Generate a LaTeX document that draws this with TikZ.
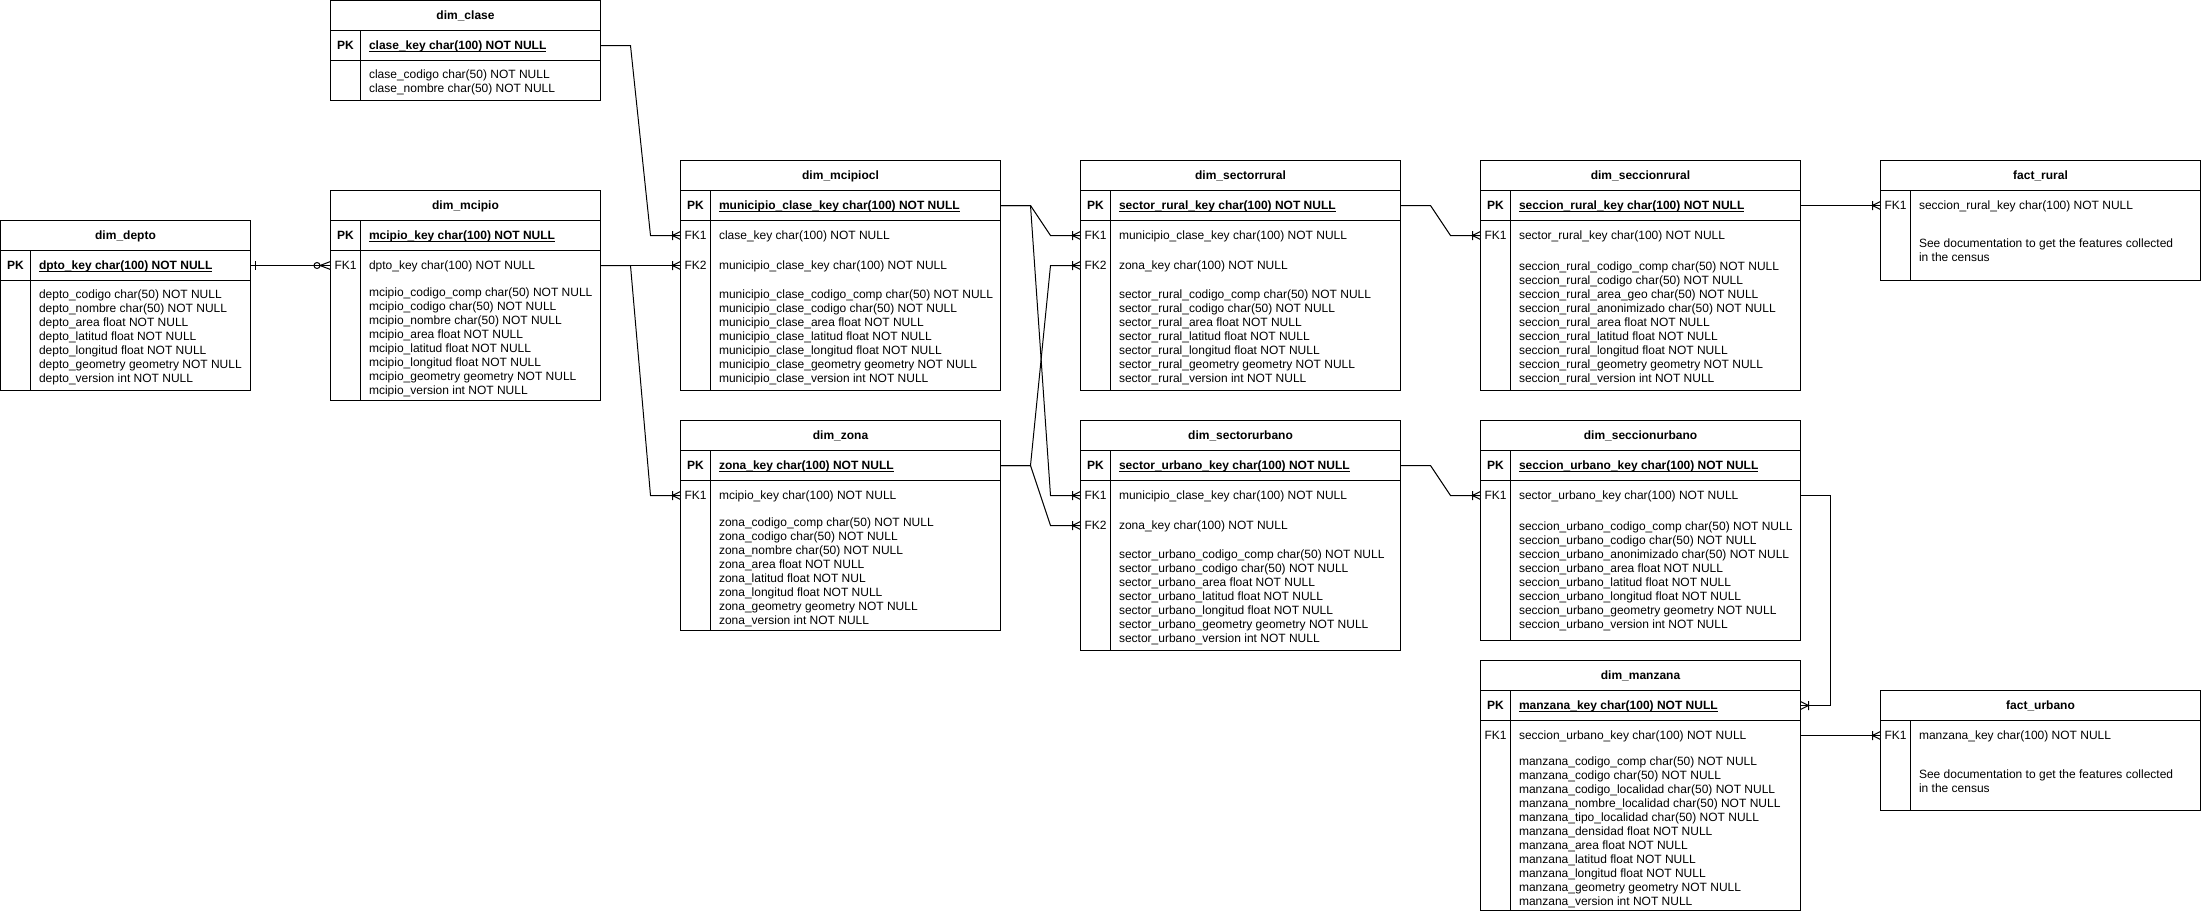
\documentclass[tikz,border=0pt]{standalone}
\usepackage{fontspec}
\setmainfont{Liberation Sans}
\usetikzlibrary{calc}

\tikzset{
  tbl/.style={draw, inner sep=0pt, outer sep=0pt, anchor=north west},
  txt/.style={inner sep=0pt, text height=8.6pt, text depth=0pt,
              font=\fontsize{12}{14}\selectfont},
  fld/.style={txt, anchor=west},
  ttl/.style={txt, font=\fontsize{12}{14}\selectfont\bfseries},
  manytip/.pic={\draw (-8,-4.5) -- (-8,4.5) (-8,0) -- (0,-4) (-8,0) -- (0,4);},
  zerotip/.pic={\draw (-13.5,0) circle[radius=3pt] (-10.5,0) -- (0,-4) (-10.5,0) -- (0,4);},
  onetip/.pic={\draw (5,-4.5) -- (5,4.5);}
}

\newcommand{\ertbl}[6]{% name, left, top, width, height, title
  \node[tbl, minimum width=#4pt, minimum height=#5pt] (#1) at (#2,#3) {};
  \node[ttl] (#1-title) at (#2+#4/2,#3+15) {#6};
  \draw (#2,#3+30) -- ++(#4,0) (#2+30,#3+30) -- (#2+30,#3+#5);
}
\newcommand{\erpk}[5]{% name, left, top, width, key
  \draw (#2,#3+60) -- ++(#4,0);
  \node[ttl] (#1-pklbl) at (#2+15,#3+45) {PK};
  \node[ttl, anchor=west] (#1-pk) at (#2+38,#3+45) {\underline{\smash{#5}}};
}
\newcommand{\erfk}[5]{% name, left, y, label, text
  \node[txt] (#1-lbl) at (#2+15,#3) {#4};
  \node[fld] (#1) at (#2+38,#3) {#5};
}
\newcommand{\erbody}[4]{% name, left, first y, lines
  \foreach \fieldtxt [count=\i] in {#4}
    \node[fld] (#1-\i) at (#2+38,#3+14*\i-14) {\fieldtxt};
}
\newcommand{\errel}[2]{%
  \draw (#1) -- ++(30,0) -- ($(#2)+(-30,0)$) -- (#2);
  \pic at (#2) {manytip};
}

\begin{document}
\begin{tikzpicture}[x=1pt,y=-1pt,line width=1pt]
  \path[fill=white] (-0.5,-0.5) rectangle (2200.5,910.5);

  \ertbl{clase}{330}{0}{270}{100}{dim\_clase}
  \erpk{clase}{330}{0}{270}{clase\_key char(100) NOT NULL}
  \erbody{clase}{330}{74}{clase\_codigo char(50) NOT NULL,clase\_nombre char(50) NOT NULL}

  \ertbl{depto}{0}{220}{250}{170}{dim\_depto}
  \erpk{depto}{0}{220}{250}{dpto\_key char(100) NOT NULL}
  \erbody{depto}{0}{294}{depto\_codigo char(50) NOT NULL,depto\_nombre char(50) NOT NULL,%
depto\_area float NOT NULL,depto\_latitud float NOT NULL,depto\_longitud float NOT NULL,%
depto\_geometry geometry NOT NULL,depto\_version int NOT NULL}

  \ertbl{mcipio}{330}{190}{270}{210}{dim\_mcipio}
  \erpk{mcipio}{330}{190}{270}{mcipio\_key char(100) NOT NULL}
  \erfk{mcipio-fk1}{330}{265}{FK1}{dpto\_key char(100) NOT NULL}
  \erbody{mcipio}{330}{292}{mcipio\_codigo\_comp char(50) NOT NULL,mcipio\_codigo char(50) NOT NULL,%
mcipio\_nombre char(50) NOT NULL,mcipio\_area float NOT NULL,mcipio\_latitud float NOT NULL,%
mcipio\_longitud float NOT NULL,mcipio\_geometry geometry NOT NULL,mcipio\_version int NOT NULL}

  \ertbl{mcipiocl}{680}{160}{320}{230}{dim\_mcipiocl}
  \erpk{mcipiocl}{680}{160}{320}{municipio\_clase\_key char(100) NOT NULL}
  \erfk{mcipiocl-fk1}{680}{235}{FK1}{clase\_key char(100) NOT NULL}
  \erfk{mcipiocl-fk2}{680}{265}{FK2}{municipio\_clase\_key char(100) NOT NULL}
  \erbody{mcipiocl}{680}{294}{municipio\_clase\_codigo\_comp char(50) NOT NULL,%
municipio\_clase\_codigo char(50) NOT NULL,municipio\_clase\_area float NOT NULL,%
municipio\_clase\_latitud float NOT NULL,municipio\_clase\_longitud float NOT NULL,%
municipio\_clase\_geometry geometry NOT NULL,municipio\_clase\_version int NOT NULL}

  \ertbl{zona}{680}{420}{320}{210}{dim\_zona}
  \erpk{zona}{680}{420}{320}{zona\_key char(100) NOT NULL}
  \erfk{zona-fk1}{680}{495}{FK1}{mcipio\_key char(100) NOT NULL}
  \erbody{zona}{680}{522}{zona\_codigo\_comp char(50) NOT NULL,zona\_codigo char(50) NOT NULL,%
zona\_nombre char(50) NOT NULL,zona\_area float NOT NULL,zona\_latitud float NOT NUL,%
zona\_longitud float NOT NULL,zona\_geometry geometry NOT NULL,zona\_version int NOT NULL}

  \ertbl{srural}{1080}{160}{320}{230}{dim\_sectorrural}
  \erpk{srural}{1080}{160}{320}{sector\_rural\_key char(100) NOT NULL}
  \erfk{srural-fk1}{1080}{235}{FK1}{municipio\_clase\_key char(100) NOT NULL}
  \erfk{srural-fk2}{1080}{265}{FK2}{zona\_key char(100) NOT NULL}
  \erbody{srural}{1080}{294}{sector\_rural\_codigo\_comp char(50) NOT NULL,%
sector\_rural\_codigo char(50) NOT NULL,sector\_rural\_area float NOT NULL,%
sector\_rural\_latitud float NOT NULL,sector\_rural\_longitud float NOT NULL,%
sector\_rural\_geometry geometry NOT NULL,sector\_rural\_version int NOT NULL}

  \ertbl{surbano}{1080}{420}{320}{230}{dim\_sectorurbano}
  \erpk{surbano}{1080}{420}{320}{sector\_urbano\_key char(100) NOT NULL}
  \erfk{surbano-fk1}{1080}{495}{FK1}{municipio\_clase\_key char(100) NOT NULL}
  \erfk{surbano-fk2}{1080}{525}{FK2}{zona\_key char(100) NOT NULL}
  \erbody{surbano}{1080}{554}{sector\_urbano\_codigo\_comp char(50) NOT NULL,%
sector\_urbano\_codigo char(50) NOT NULL,sector\_urbano\_area float NOT NULL,%
sector\_urbano\_latitud float NOT NULL,sector\_urbano\_longitud float NOT NULL,%
sector\_urbano\_geometry geometry NOT NULL,sector\_urbano\_version int NOT NULL}

  \ertbl{crural}{1480}{160}{320}{230}{dim\_seccionrural}
  \erpk{crural}{1480}{160}{320}{seccion\_rural\_key char(100) NOT NULL}
  \erfk{crural-fk1}{1480}{235}{FK1}{sector\_rural\_key char(100) NOT NULL}
  \erbody{crural}{1480}{266}{seccion\_rural\_codigo\_comp char(50) NOT NULL,%
seccion\_rural\_codigo char(50) NOT NULL,seccion\_rural\_area\_geo char(50) NOT NULL,%
seccion\_rural\_anonimizado char(50) NOT NULL,seccion\_rural\_area float NOT NULL,%
seccion\_rural\_latitud float NOT NULL,seccion\_rural\_longitud float NOT NULL,%
seccion\_rural\_geometry geometry NOT NULL,seccion\_rural\_version int NOT NULL}

  \ertbl{curbano}{1480}{420}{320}{220}{dim\_seccionurbano}
  \erpk{curbano}{1480}{420}{320}{seccion\_urbano\_key char(100) NOT NULL}
  \erfk{curbano-fk1}{1480}{495}{FK1}{sector\_urbano\_key char(100) NOT NULL}
  \erbody{curbano}{1480}{526}{seccion\_urbano\_codigo\_comp char(50) NOT NULL,%
seccion\_urbano\_codigo char(50) NOT NULL,seccion\_urbano\_anonimizado char(50) NOT NULL,%
seccion\_urbano\_area float NOT NULL,seccion\_urbano\_latitud float NOT NULL,%
seccion\_urbano\_longitud float NOT NULL,seccion\_urbano\_geometry geometry NOT NULL,%
seccion\_urbano\_version int NOT NULL}

  \ertbl{manzana}{1480}{660}{320}{250}{dim\_manzana}
  \erpk{manzana}{1480}{660}{320}{manzana\_key char(100) NOT NULL}
  \erfk{manzana-fk1}{1480}{735}{FK1}{seccion\_urbano\_key char(100) NOT NULL}
  \erbody{manzana}{1480}{761}{manzana\_codigo\_comp char(50) NOT NULL,%
manzana\_codigo char(50) NOT NULL,manzana\_codigo\_localidad char(50) NOT NULL,%
manzana\_nombre\_localidad char(50) NOT NULL,manzana\_tipo\_localidad char(50) NOT NULL,%
manzana\_densidad float NOT NULL,manzana\_area float NOT NULL,manzana\_latitud float NOT NULL,%
manzana\_longitud float NOT NULL,manzana\_geometry geometry NOT NULL,manzana\_version int NOT NULL}

  \ertbl{frural}{1880}{160}{320}{120}{fact\_rural}
  \erfk{frural-fk1}{1880}{205}{FK1}{seccion\_rural\_key char(100) NOT NULL}
  \erbody{frural}{1880}{243}{See documentation to get the features collected,in the census}

  \ertbl{furbano}{1880}{690}{320}{120}{fact\_urbano}
  \erfk{furbano-fk1}{1880}{735}{FK1}{manzana\_key char(100) NOT NULL}
  \erbody{furbano}{1880}{774}{See documentation to get the features collected,in the census}

  \draw (depto.east |- depto-pk) -- (mcipio.west |- mcipio-fk1);
  \pic at (depto.east |- depto-pk) {onetip};
  \pic at (mcipio.west |- mcipio-fk1) {zerotip};
  \errel{clase.east |- clase-pk}{mcipiocl.west |- mcipiocl-fk1}
  \errel{mcipio.east |- mcipio-fk1}{mcipiocl.west |- mcipiocl-fk2}
  \errel{mcipio.east |- mcipio-fk1}{zona.west |- zona-fk1}
  \errel{mcipiocl.east |- mcipiocl-pk}{srural.west |- srural-fk1}
  \errel{mcipiocl.east |- mcipiocl-pk}{surbano.west |- surbano-fk1}
  \errel{zona.east |- zona-pk}{srural.west |- srural-fk2}
  \errel{zona.east |- zona-pk}{surbano.west |- surbano-fk2}
  \errel{srural.east |- srural-pk}{crural.west |- crural-fk1}
  \errel{surbano.east |- surbano-pk}{curbano.west |- curbano-fk1}
  \errel{crural.east |- crural-pk}{frural.west |- frural-fk1}
  \errel{manzana.east |- manzana-fk1}{furbano.west |- furbano-fk1}
  \draw (curbano.east |- curbano-fk1) -- ++(30,0) |- (manzana.east |- manzana-pk);
  \pic[rotate=180] at (manzana.east |- manzana-pk) {manytip};
\end{tikzpicture}
\end{document}
